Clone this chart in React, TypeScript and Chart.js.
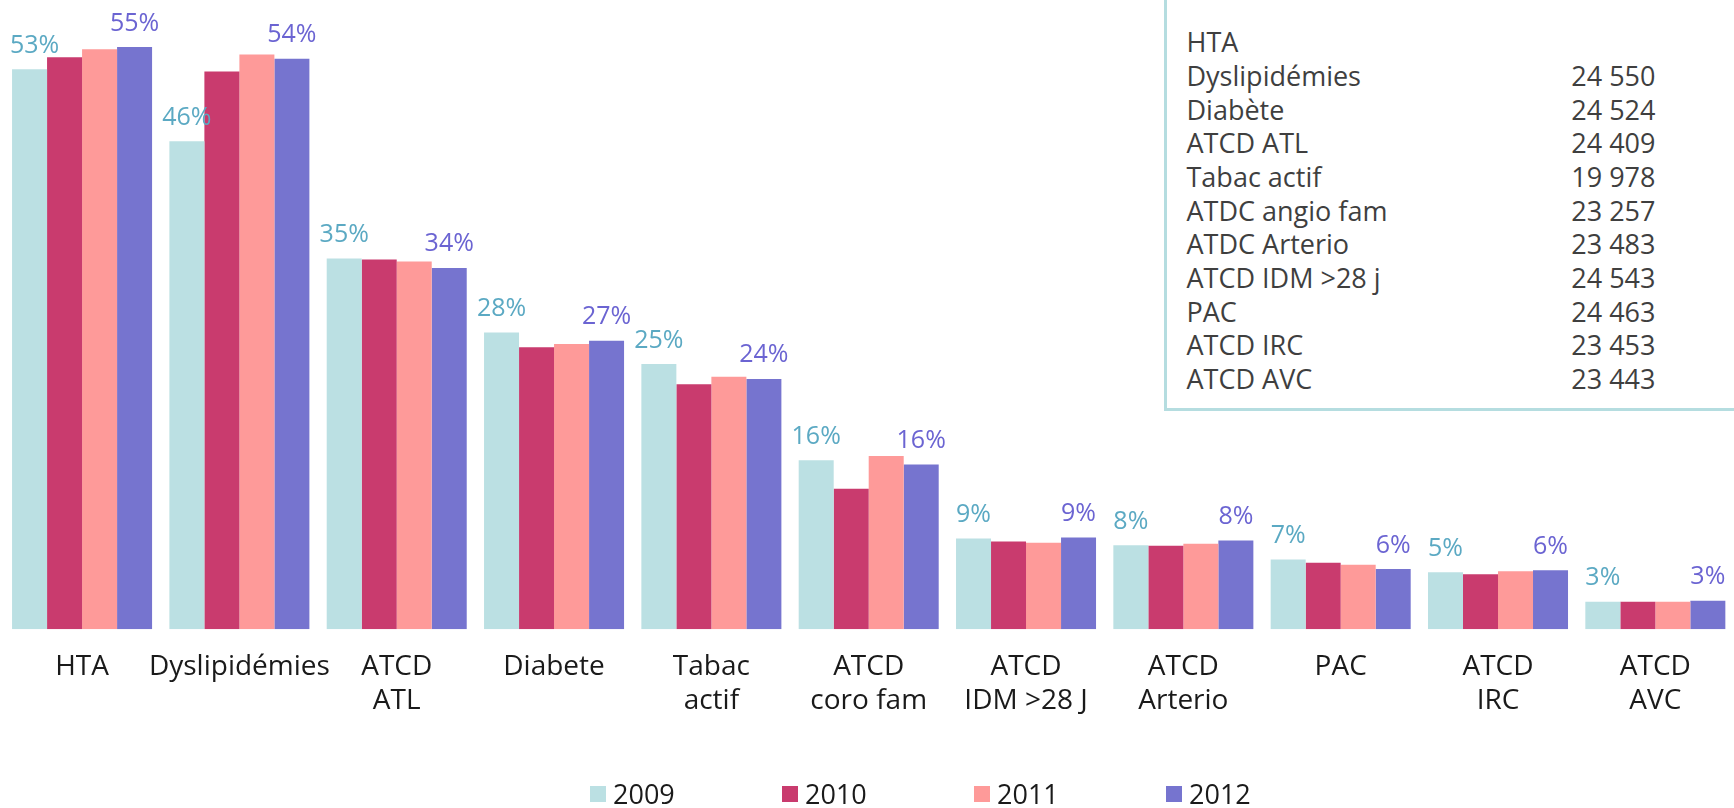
import React, { useEffect, useRef } from "react";
import { Chart, registerables } from "chart.js";

Chart.register(...registerables);

const categories: string[][] = [
  ["HTA"],
  ["Dyslipidémies"],
  ["ATCD", "ATL"],
  ["Diabete"],
  ["Tabac", "actif"],
  ["ATCD", "coro fam"],
  ["ATCD", "IDM >28 J"],
  ["ATCD", "Arterio"],
  ["PAC"],
  ["ATCD", "IRC"],
  ["ATCD", "AVC"],
];

const years = ["2009", "2010", "2011", "2012"];

const values2009 = [53.0, 46.2, 35.1, 28.1, 25.1, 16.0, 8.6, 7.95, 6.6, 5.4, 2.6];
const values2010 = [54.15, 52.8, 35.0, 26.7, 23.2, 13.3, 8.3, 7.9, 6.3, 5.2, 2.6];
const values2011 = [54.9, 54.4, 34.8, 27.0, 23.9, 16.4, 8.2, 8.1, 6.1, 5.5, 2.6];
const values2012 = [55.1, 54.0, 34.2, 27.3, 23.7, 15.6, 8.7, 8.4, 5.7, 5.6, 2.7];

const barColors = ["#bbe0e3", "#c93b6e", "#fe9a99", "#7674cf"];
const labelColors = ["#5ba9c3", "#6b64d2"];
const labelledSeries = [0, 3];

const tableLabels = [
  "HTA",
  "Dyslipidémies",
  "Diabète",
  "ATCD ATL",
  "Tabac actif",
  "ATDC angio fam",
  "ATDC Arterio",
  "ATCD IDM >28 j",
  "PAC",
  "ATCD IRC",
  "ATCD AVC",
];
const tableValues = [
  "",
  "24 550",
  "24 524",
  "24 409",
  "19 978",
  "23 257",
  "23 483",
  "24 543",
  "24 463",
  "23 453",
  "23 443",
];

const FONT = "'Open Sans', 'DejaVu Sans', sans-serif";

const valueLabelPlugin = {
  id: "valueLabels",
  afterDatasetsDraw(chart: any) {
    const ctx = chart.ctx;
    ctx.save();
    ctx.font = `25px ${FONT}`;
    ctx.textAlign = "center";
    ctx.textBaseline = "alphabetic";
    labelledSeries.forEach((dsIndex, k) => {
      const meta = chart.getDatasetMeta(dsIndex);
      const data = chart.data.datasets[dsIndex].data as number[];
      ctx.fillStyle = labelColors[k];
      meta.data.forEach((bar: any, i: number) => {
        const txt = Math.round(data[i]) + "%";
        const w = ctx.measureText(txt).width;
        let x = bar.x;
        if (x - w / 2 < 10) x = 10 + w / 2;
        ctx.fillText(txt, x, bar.y - 16.5);
      });
    });
    ctx.restore();
  },
};

function BarChart() {
  const canvasRef = useRef<HTMLCanvasElement | null>(null);

  useEffect(() => {
    if (!canvasRef.current) return;
    Chart.defaults.font.family = FONT;
    const seriesValues = [values2009, values2010, values2011, values2012];
    const chart = new Chart(canvasRef.current, {
      type: "bar",
      data: {
        labels: categories,
        datasets: years.map((y, i) => ({
          label: y,
          data: seriesValues[i],
          backgroundColor: barColors[i],
          borderWidth: 0,
          categoryPercentage: 0.89,
          barPercentage: 1.0,
        })),
      },
      options: {
        animation: false,
        responsive: true,
        maintainAspectRatio: false,
        layout: { padding: { left: 3.4, right: 0, top: 0, bottom: 0 } },
        plugins: {
          legend: { display: false },
          tooltip: { enabled: false },
        },
        scales: {
          x: {
            grid: { display: false, drawTicks: false },
            border: { display: false },
            ticks: {
              color: "#1a1a1a",
              font: { size: 28, family: FONT, lineHeight: 1.24 },
              padding: 20,
              maxRotation: 0,
              minRotation: 0,
              autoSkip: false,
            },
            afterFit: (scale: any) => {
              scale.height = 178.7;
            },
          },
          y: {
            display: false,
            min: 0,
            max: 59.56,
          },
        },
      },
      plugins: [valueLabelPlugin],
    });
    return () => chart.destroy();
  }, []);

  return <canvas ref={canvasRef} />;
}

export default function App() {
  return (
    <div
      style={{
        position: "fixed",
        left: 0,
        top: 0,
        width: 1734,
        height: 808,
        background: "#ffffff",
        overflow: "hidden",
        fontFamily: FONT,
      }}
    >
      <div style={{ position: "absolute", left: 0, top: 0, width: 1734, height: 808 }}>
        <BarChart />
      </div>

      <div
        style={{
          position: "absolute",
          left: 1163.5,
          top: -10,
          width: 700,
          height: 420.5,
          boxSizing: "border-box",
          borderLeft: "3.5px solid #b5dde0",
          borderBottom: "3.5px solid #b5dde0",
          background: "#ffffff",
        }}
      >
        <div
          style={{
            position: "absolute",
            left: 20,
            top: 35.4,
            width: 469,
            fontSize: 27,
            lineHeight: "33.67px",
            color: "#3f3f3f",
          }}
        >
          {tableLabels.map((lab, i) => (
            <div key={lab} style={{ display: "flex", justifyContent: "space-between", height: 33.67 }}>
              <span>{lab}</span>
              <span>{tableValues[i]}</span>
            </div>
          ))}
        </div>
      </div>

      <div
        style={{
          position: "absolute",
          left: 590,
          top: 774,
          height: 40,
          display: "flex",
          alignItems: "center",
        }}
      >
        {years.map((y, i) => (
          <div key={y} style={{ width: 192, display: "flex", alignItems: "center" }}>
            <span style={{ width: 16, height: 16, background: barColors[i], display: "inline-block" }} />
            <span style={{ marginLeft: 7, fontSize: 27, color: "#1a1a1a", lineHeight: "40px" }}>{y}</span>
          </div>
        ))}
      </div>
    </div>
  );
}
